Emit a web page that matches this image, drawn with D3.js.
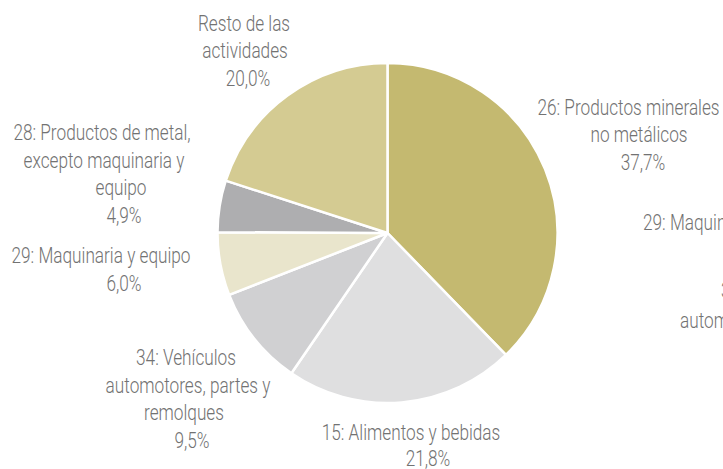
<!DOCTYPE html>
<html><head><meta charset="utf-8">
<script src="https://cdn.jsdelivr.net/npm/d3@7"></script>
<style>
html,body{margin:0;padding:0;background:#fff;overflow:hidden;}
svg{display:block;}
text{font-family:Roboto,"Liberation Sans Narrow",sans-serif;font-weight:300;fill:#727272;}
</style></head>
<body>
<script>
const categories = ["26: Productos minerales no metálicos","15: Alimentos y bebidas","34: Vehículos automotores, partes y remolques","29: Maquinaria y equipo","28: Productos de metal, excepto maquinaria y equipo","Resto de las actividades"];
const values = [37.7, 21.8, 9.5, 6.0, 4.9, 20.0];
const percentLabels = ["37,7%","21,8%","9,5%","6,0%","4,9%","20,0%"];
const labelLines = [
  ["26: Productos minerales","no metálicos"],
  ["15: Alimentos y bebidas"],
  ["34: Vehículos","automotores, partes y","remolques"],
  ["29: Maquinaria y equipo"],
  ["28: Productos de metal,","excepto maquinaria y","equipo"],
  ["Resto de las","actividades"]
];
const colors = ["#c4b970","#dfdfe0","#d0d0d2","#e9e5cc","#aeaeb0","#d4cb92"];

const W = 723, H = 469;
const svg = d3.select("body").append("svg").attr("width", W).attr("height", H);
const cx = 387.5, cy = 233, R = 170;

const pie = d3.pie().sort(null).value(d => d)(values);
const arc = d3.arc().innerRadius(0).outerRadius(R);
const g = svg.append("g").attr("transform", `translate(${cx},${cy})`);
g.selectAll("path").data(pie).join("path")
  .attr("d", arc)
  .attr("fill", (d, i) => colors[i])
  .attr("stroke", "#fff").attr("stroke-width", 2.5).attr("stroke-linejoin", "round");

// label layout: per line [centerX, baselineY]
const layout = [
  {lines: [[628.5,115],[639,142]], pct: [643,170]},
  {lines: [[411,440]], pct: [428,466]},
  {lines: [[186,365],[188,393],[184,420]], pct: [192,448]},
  {lines: [[101,263]], pct: [124,291]},
  {lines: [[102,140],[104,168],[121,195]], pct: [124,223]},
  {lines: [[244,31],[245,58]], pct: [248,86]}
];
const SX = 0.765, FS = 22.5;
function addText(str, x, y, anchor) {
  svg.append("text")
    .attr("transform", `translate(${x},${y}) scale(${SX},1)`)
    .attr("text-anchor", anchor || "middle")
    .attr("font-size", FS)
    .text(str);
}
labelLines.forEach((lines, i) => {
  lines.forEach((ln, j) => addText(ln, layout[i].lines[j][0], layout[i].lines[j][1]));
  addText(percentLabels[i], layout[i].pct[0], layout[i].pct[1]);
});
// clipped residual labels at the right edge
addText(labelLines[3][0], 643, 230, "start");
addText(labelLines[2][0], 721, 298, "start");
addText(labelLines[2][1], 680, 328, "start");
</script>
</body></html>
